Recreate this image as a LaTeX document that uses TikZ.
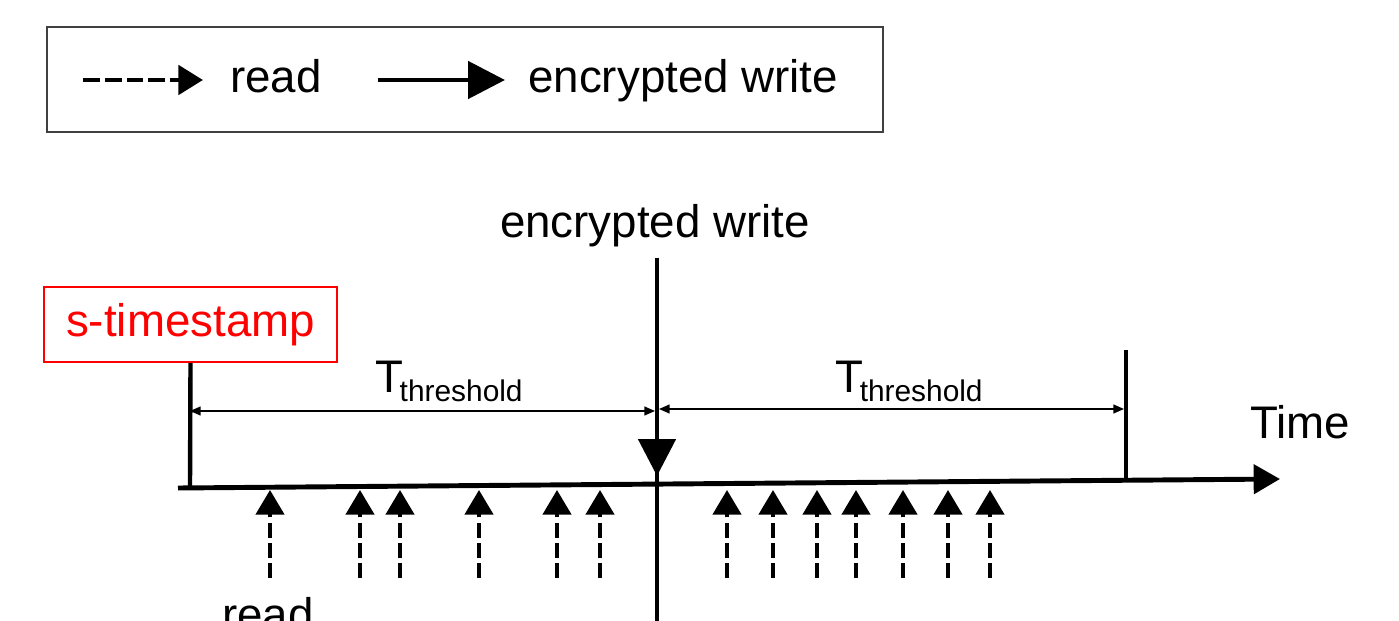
\documentclass[tikz,border=0pt]{standalone}
\usepackage{fontspec}
\setmainfont{Liberation Sans}
\usetikzlibrary{arrows.meta}

\newcommand{\Tthr}{T\hspace{-2pt}\raisebox{-0.2em}{\fontsize{17}{20}\selectfont threshold}}

\tikzset{
	every node/.style={font=\fontsize{26}{31}\selectfont, inner sep=0pt},
	readarrow/.style={-{Triangle[length=14pt, width=16pt]}, line width=2.3pt, dash pattern=on 8.5pt off 3pt},
	writearrow/.style={-{Triangle[length=21pt, width=21pt]}, line width=2.8pt},
	dimarrow/.style={{Triangle[length=6pt, width=5pt]}-{Triangle[length=6pt, width=5pt]}, line width=0.85pt},
	tick/.style={line width=2.5pt}
}

\begin{document}
\begin{tikzpicture}[x=0.02cm, y=-0.02cm]

\useasboundingbox (0,0) rectangle (1399,621);

% legend
\node (legend) at (465, 79.5) [rectangle, draw=black!75, line width=1.1pt, minimum width=16.72cm, minimum height=2.1cm] {};
\coordinate (lgReadS) at (83, 80);
\coordinate (lgReadE) at (203, 80);
\draw[-{Triangle[length=14pt, width=16.5pt]}, line width=2.8pt, dash pattern=on 9.6pt off 2.8pt] (lgReadS) -- (lgReadE);
\node (lgRead) at (230, 93) [anchor=base west] {read};
\coordinate (lgWriteS) at (378, 80);
\coordinate (lgWriteE) at (505, 80);
\draw[writearrow] (lgWriteS) -- (lgWriteE);
\node (lgWrite) at (528, 93) [anchor=base west] {encrypted write};

% time axis
\coordinate (tlS) at (178, 488);
\coordinate (tlE) at (1280, 479);
\draw[-{Triangle[length=15pt, width=16.5pt]}, line width=2.8pt] (tlS) -- (tlE);
\node (time) at (1250, 438) [anchor=base west] {Time};

% s-timestamp
\node (stamp) at (190.5, 324.5) [rectangle, draw=red, line width=1.4pt, text=red, minimum width=5.86cm, minimum height=1.5cm] {s-timestamp};
\coordinate (stampBase) at (190, 488);
\draw[tick] (stamp.south) -- (stampBase);

% end of second window
\coordinate (endTop) at (1126, 350);
\coordinate (endBase) at (1126, 480);
\draw[tick] (endTop) -- (endBase);

% encrypted write
\node (wrTxt) at (655, 238) [anchor=base] {encrypted write};
\coordinate (wrTop) at (657, 258);
\coordinate (wrTip) at (657, 476);
\coordinate (wrBot) at (657, 640);
\draw[line width=2.8pt] (wrTop) -- (wrBot);
\draw[writearrow] (wrTop) -- (wrTip);

% threshold windows
\coordinate (dimLs) at (190, 411);
\coordinate (dimLe) at (655, 411);
\draw[dimarrow] (dimLs) -- (dimLe);
\node (thrL) at (375, 392) [anchor=base west] {\Tthr};
\coordinate (dimRs) at (659, 409);
\coordinate (dimRe) at (1124, 409);
\draw[dimarrow] (dimRs) -- (dimRe);
\node (thrR) at (835, 392) [anchor=base west] {\Tthr};

% reads
\foreach \x [count=\i] in {270,360,400,479,557,600,727,773,817,856,903,948,990} {
	\coordinate (rdS\i) at (\x, 578);
	\coordinate (rdE\i) at (\x, 490);
	\draw[readarrow] (rdS\i) -- (rdE\i);
}
\node (rdTxt) at (268, 630) [anchor=base] {read};

\end{tikzpicture}
\end{document}
